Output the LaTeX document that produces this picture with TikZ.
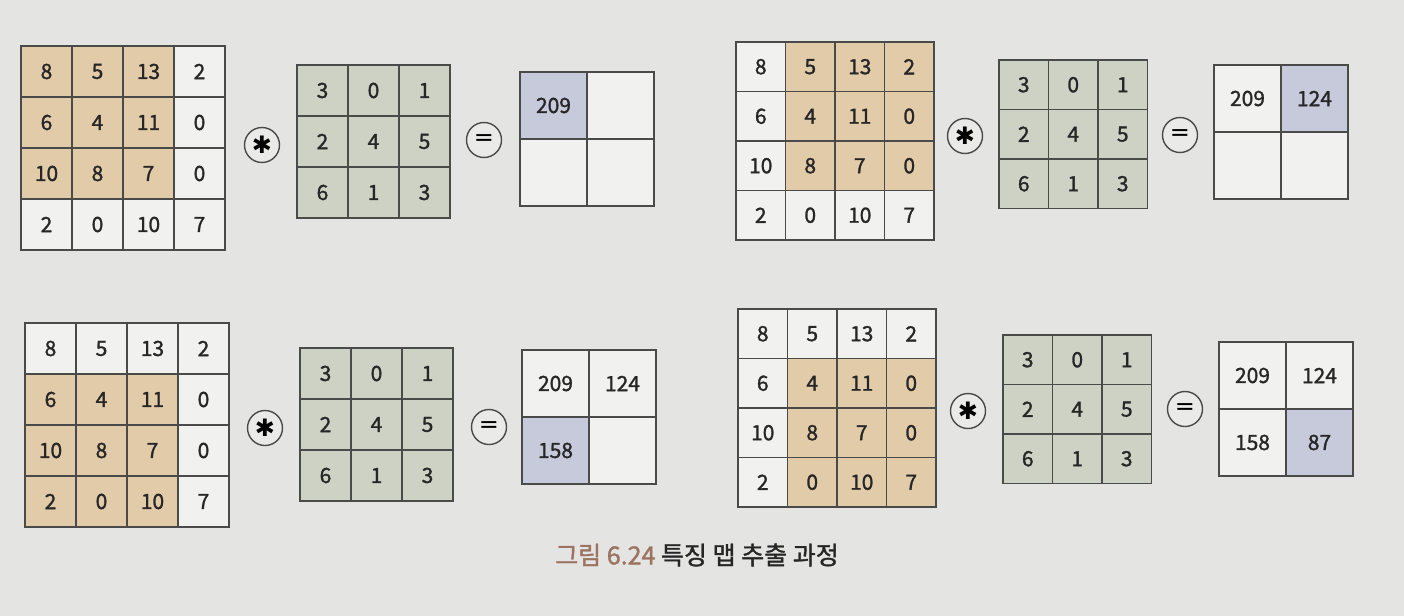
\documentclass[tikz,border=0pt]{standalone}
\usepackage{fontspec}
\setmainfont{Noto Sans CJK KR}[FakeBold=1.3]
\newfontfamily\symfont{DejaVu Sans}
\usepackage{tikz}
\usetikzlibrary{positioning}

\definecolor{pagegray}{HTML}{E4E4E3}
\definecolor{cellwhite}{HTML}{F1F1EF}
\definecolor{patchtan}{HTML}{E2CBA9}
\definecolor{kernelgreen}{HTML}{CDD2C5}
\definecolor{outblue}{HTML}{C6CADB}
\definecolor{gridline}{HTML}{4A4A48}
\definecolor{captionbrown}{HTML}{9C7361}

\tikzset{
  cell/.style={draw=gridline, line width=0.65pt, fill=cellwhite, inner sep=0pt, outer sep=0pt,
    font=\fontsize{10.5}{12}\selectfont, text=black!85},
  opcircle/.style={draw=gridline, line width=0.7pt, circle, fill=cellwhite!50!pagegray,
    minimum size=17.5pt, inner sep=0pt, font=\symfont\fontsize{12}{12}\selectfont}
}

% input 4x4: name, x, y, cell, first row, first col of the patch
\newcommand{\inputgrid}[6]{%
  \foreach \row [count=\r from 0] in {{8,5,13,2},{6,4,11,0},{10,8,7,0},{2,0,10,7}} {
    \foreach \val [count=\c from 0] in \row {
      \pgfmathparse{(\r>=#5)&&(\r<=#5+2)&&(\c>=#6)&&(\c<=#6+2) ? 1 : 0}
      \def\cellfill{cellwhite}
      \ifnum\pgfmathresult=1 \def\cellfill{patchtan}\fi
      \node[cell, fill=\cellfill, minimum width=#4*0.5pt, minimum height=#4*0.5pt]
        (#1-\r-\c) at ({#2+(\c+0.5)*#4},{#3+(\r+0.5)*#4}) {\val};
    }
  }
}
% kernel 3x3: name, x, y, cell
\newcommand{\kernelgrid}[4]{%
  \foreach \row [count=\r from 0] in {{3,0,1},{2,4,5},{6,1,3}} {
    \foreach \val [count=\c from 0] in \row {
      \node[cell, fill=kernelgreen, minimum width=#4*0.5pt, minimum height=#4*0.5pt]
        (#1-\r-\c) at ({#2+(\c+0.5)*#4},{#3+(\r+0.5)*#4}) {\val};
    }
  }
}
% output 2x2: name, x, y, cell, values, highlighted cell
\newcommand{\outgrid}[6]{%
  \foreach \val [count=\i from 0] in {#5} {
    \pgfmathtruncatemacro{\r}{\i/2}
    \pgfmathtruncatemacro{\c}{mod(\i,2)}
    \def\cellfill{cellwhite}
    \ifnum\i=#6 \def\cellfill{outblue}\fi
    \node[cell, fill=\cellfill, minimum width=#4*0.5pt, minimum height=#4*0.5pt]
      (#1-\r-\c) at ({#2+(\c+0.5)*#4},{#3+(\r+0.5)*#4}) {\val};
  }
}

\begin{document}
\begin{tikzpicture}[x=0.5pt, y=-0.5pt]
    % page
    \fill[pagegray] (0,0) rectangle (1404,616);
    \useasboundingbox (0,0) rectangle (1404,616);

    % step 1
    \inputgrid{inA}{21}{46}{51}{0}{0}
    \node[opcircle] (starA) at (262,145) {✱};
    \kernelgrid{kerA}{297}{65}{51}
    \node[opcircle] (eqA) at (484,140) {=};
    \outgrid{outA}{520}{72}{67}{209,{},{},{}}{0}

    % step 2
    \inputgrid{inB}{736}{42}{49.5}{0}{1}
    \node[opcircle] (starB) at (965,136) {✱};
    \kernelgrid{kerB}{999}{60}{49.5}
    \node[opcircle] (eqB) at (1180,135) {=};
    \outgrid{outB}{1214}{65}{67}{209,124,{},{}}{1}

    % step 3
    \inputgrid{inC}{25}{323}{51}{1}{0}
    \node[opcircle] (starC) at (265,428) {✱};
    \kernelgrid{kerC}{300}{348}{51}
    \node[opcircle] (eqC) at (489,427) {=};
    \outgrid{outC}{522}{350}{67}{209,124,158,{}}{2}

    % step 4
    \inputgrid{inD}{738}{309}{49.5}{1}{1}
    \node[opcircle] (starD) at (968,411) {✱};
    \kernelgrid{kerD}{1003}{335}{49.5}
    \node[opcircle] (eqD) at (1185,409) {=};
    \outgrid{outD}{1219}{342}{67}{209,124,158,87}{3}

    % caption
    \node[font=\fontsize{12.5}{14}\selectfont, text=black!85] (caption) at (697,555)
      {{\color{captionbrown}그림 6.24} 특징 맵 추출 과정};
\end{tikzpicture}
\end{document}
